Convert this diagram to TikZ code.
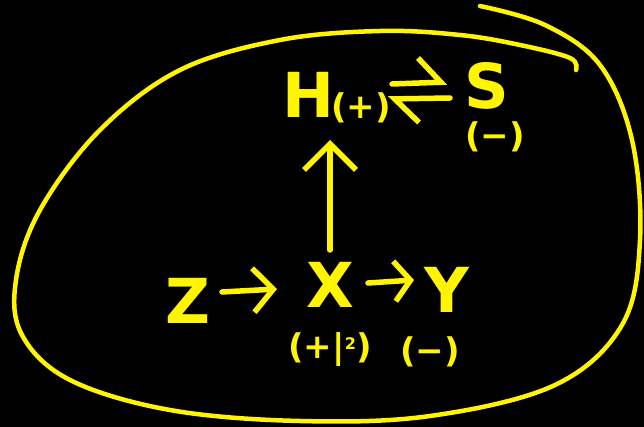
\documentclass[tikz,border=0pt]{standalone}
\usepackage{fontspec}
\setmainfont{DejaVu Sans}
\usetikzlibrary{arrows.meta}

\definecolor{ink}{RGB}{255,245,0}

\tikzset{
  pen/.style={draw=ink, line width=5.5pt, line cap=round, line join=round},
  letter/.style={text=ink, inner sep=0pt, font=\fontsize{62}{62}\selectfont\bfseries},
  sign/.style={text=ink, inner sep=0pt, font=\fontsize{34}{34}\selectfont\bfseries},
}

\begin{document}
\begin{tikzpicture}[x=1pt, y=-1pt]
  % canvas
  \fill[black] (0,0) rectangle (644,427);
  \useasboundingbox (0,0) rectangle (644,427);

  % variables
  \node[letter] (h) at (308,95) {H};
  \node[sign] (hsign) at (361,108) {(+)};
  \node[letter] (s) at (487,86) {S};
  \node[sign] (ssign) at (495,137) {(−)};
  \node[letter] (z) at (188,301) {Z};
  \node[letter] (x) at (330,285) {X};
  \node[letter] (y) at (447,290) {Y};
  \node[sign] (xsign) at (330,350) {(+|\raisebox{0.5ex}{\fontsize{16}{16}\selectfont 2})};
  \node[sign] (ysign) at (430,352) {(−)};

  % arrow ends
  \coordinate (up0) at (330,250);
  \coordinate (up1) at (330,140);
  \coordinate (zx0) at (222,292);
  \coordinate (zx1) at (277,289);
  \coordinate (xy0) at (368,283);
  \coordinate (xy1) at (414,280);
  \coordinate (fw0) at (392,84);
  \coordinate (fw1) at (447,82);
  \coordinate (bw0) at (450,98);
  \coordinate (bw1) at (388,99);

  % arrows
  \draw[pen, -{Straight Barb[length=26pt, width=52pt]}] (up0) -- (up1);
  \draw[pen, -{Straight Barb[length=20pt, width=44pt]}] (zx0) -- (zx1);
  \draw[pen, -{Straight Barb[length=16pt, width=40pt]}] (xy0) -- (xy1);

  % reversible pair
  \draw[pen, -{Straight Barb[left, length=22pt, width=50pt]}] (fw0) -- (fw1);
  \draw[pen, -{Straight Barb[left, length=24pt, width=48pt]}] (bw0) -- (bw1);

  % enclosing loop
  \draw[pen, line width=4.5pt] plot[smooth, tension=0.6] coordinates {
    (576,70) (570,58) (520,45) (460,35) (380,31) (280,40) (180,70) (100,130)
    (40,210) (16,280) (22,335) (70,380) (170,410) (300,421) (430,416)
    (555,385) (622,325) (640,240) (632,140) (600,65) (545,25) (480,6)};
\end{tikzpicture}
\end{document}
